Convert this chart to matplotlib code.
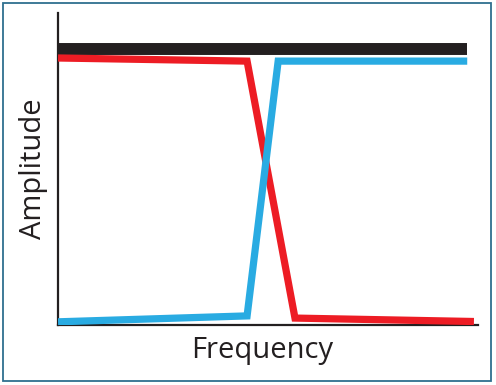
"""Schematic amplitude vs frequency: flat response plus crossover filters."""
import matplotlib
matplotlib.use('Agg')
import matplotlib.pyplot as plt
from matplotlib.patches import Rectangle

# values (arbitrary units, 0-100)
flat_x = [0, 97.4]
flat_y = [88.5, 88.5]
low_x = [0, 45, 56.4, 99]
low_y = [85.6, 84.6, 2.2, 1.1]
high_x = [0, 45, 52.4, 97.4]
high_y = [1.0, 2.9, 84.6, 84.6]

fig = plt.figure(figsize=(4.96, 3.85), dpi=100)
fig.patches.append(Rectangle((0.007, 0.011), 0.983, 0.98, transform=fig.transFigure,
                             fill=False, ec='#2f6f8f', lw=1.3))
ax = fig.add_axes([0.117, 0.156, 0.847, 0.81])

ax.plot(flat_x, flat_y, color='#231f20', lw=8.6, solid_capstyle='butt')
ax.plot(low_x, low_y, color='#ed1c24', lw=5.2, solid_capstyle='butt', solid_joinstyle='miter')
ax.plot(high_x, high_y, color='#29abe2', lw=5.2, solid_capstyle='butt', solid_joinstyle='miter')

ax.set_xlim(0, 100); ax.set_ylim(0, 100)
ax.set_xticks([]); ax.set_yticks([])
for s in ['top', 'right']:
    ax.spines[s].set_visible(False)
for s in ['left', 'bottom']:
    ax.spines[s].set_linewidth(1.6); ax.spines[s].set_color('#231f20')
ax.spines['left'].set_zorder(0); ax.spines['bottom'].set_zorder(0)

ax.set_xlabel('Frequency', family='Open Sans', fontsize=21, color='#231f20', labelpad=8)
ax.set_ylabel('Amplitude', family='Open Sans', fontsize=21, color='#231f20', labelpad=7)
ax.xaxis.set_label_coords(0.486, -0.035, transform=ax.transAxes)
ax.xaxis.label.set_va('top')

plt.savefig('out.png', dpi=100)
